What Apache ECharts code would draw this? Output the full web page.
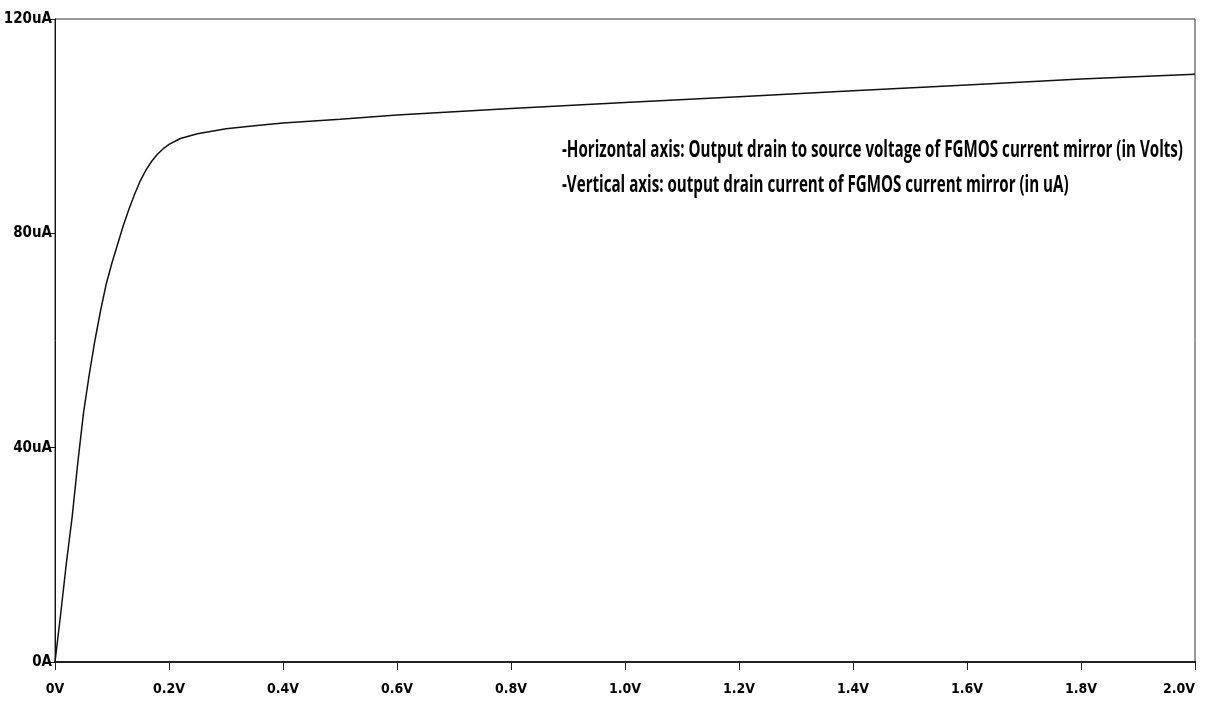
<!DOCTYPE html>
<html>
<head>
<meta charset="utf-8">
<title>FGMOS current mirror output characteristic</title>
<script src="https://cdn.jsdelivr.net/npm/echarts@6/dist/echarts.min.js"></script>
<style>
  html, body { margin: 0; padding: 0; background: #ffffff; }
  #chart { width: 1210px; height: 711px; }
</style>
</head>
<body>
<div id="chart"></div>
<script>
// Output drain-to-source voltage (V)
const vds = [0, 0.01, 0.02, 0.03, 0.04, 0.05, 0.06, 0.07, 0.08, 0.09, 0.10,
             0.11, 0.12, 0.13, 0.14, 0.15, 0.16, 0.17, 0.18, 0.19, 0.20,
             0.22, 0.25, 0.30, 0.35, 0.40, 0.50, 0.60, 0.80, 1.00,
             1.20, 1.40, 1.60, 1.80, 2.00];
// Output drain current (uA)
const idrain = [0, 9, 18.5, 27, 37.2, 46.5, 53.6, 60, 65.6, 70.6, 74.5,
                78, 81.5, 84.6, 87.4, 89.9, 91.9, 93.5, 94.8, 95.8, 96.6,
                97.7, 98.6, 99.5, 100.1, 100.6, 101.3, 102.1, 103.3, 104.4,
                105.5, 106.6, 107.7, 108.8, 109.7];
// Axis tick labels
const xTickLabels = ['0V', '0.2V', '0.4V', '0.6V', '0.8V', '1.0V', '1.2V', '1.4V', '1.6V', '1.8V', '2.0V'];
const yTickLabels = ['0A', '40uA', '80uA', '120uA'];
// Annotation lines
const notes = [
  '-Horizontal axis: Output drain to source voltage of FGMOS current mirror (in Volts)',
  '-Vertical axis: output drain current of FGMOS current mirror (in uA)'
];

const axisFont = '"DejaVu Sans Condensed", "DejaVu Sans", sans-serif';
const noteFont = 'bold 24px "Open Sans", "DejaVu Sans Condensed", sans-serif';

// The note block is set in a narrow face: squeeze it horizontally so the
// first line spans the intended width.
const noteWidth = 621;
const measureCtx = document.createElement('canvas').getContext('2d');
measureCtx.font = noteFont;
const noteScale = noteWidth / measureCtx.measureText(notes[0]).width;

const chart = echarts.init(document.getElementById('chart'), null, { renderer: 'canvas' });

chart.setOption({
  animation: false,
  backgroundColor: '#ffffff',
  grid: {
    left: 55, right: 15, top: 19, bottom: 49,
    show: true, borderColor: '#333', borderWidth: 1
  },
  xAxis: [{
    type: 'value', min: 0, max: 2, interval: 0.2,
    axisLine: { show: true, onZero: false, lineStyle: { color: '#222', width: 2 } },
    axisTick: { show: true, length: 8, lineStyle: { color: '#222', width: 1 } },
    axisLabel: {
      margin: 20, color: '#000', fontFamily: axisFont, fontWeight: 'bold', fontSize: 14,
      alignMaxLabel: 'right',
      formatter: v => xTickLabels[Math.round(v / 0.2)]
    },
    splitLine: { show: false }
  }, {
    type: 'value', min: 0, max: 2, position: 'top',
    axisLine: { show: true, lineStyle: { color: '#222', width: 2 } },
    axisTick: { show: false }, axisLabel: { show: false }, splitLine: { show: false }
  }],
  yAxis: {
    type: 'value', min: 0, max: 120, interval: 40,
    axisLine: { show: true, onZero: false, lineStyle: { color: '#111', width: 1 } },
    axisTick: { show: true, length: 6, lineStyle: { color: '#111', width: 1 } },
    axisLabel: {
      margin: 3, color: '#000', fontFamily: axisFont, fontWeight: 'bold', fontSize: 15,
      formatter: v => yTickLabels[Math.round(v / 40)]
    },
    splitLine: { show: false }
  },
  series: [{
    type: 'line',
    data: vds.map((v, i) => [v, idrain[i]]),
    showSymbol: false,
    smooth: false,
    lineStyle: { color: '#111', width: 1.5 }
  }],
  graphic: notes.map((t, i) => ({
    type: 'text',
    x: 562,
    y: 150 + i * 35,
    scaleX: noteScale,
    style: {
      text: t,
      fill: '#000',
      font: noteFont,
      textVerticalAlign: 'middle'
    }
  }))
});
</script>
</body>
</html>
